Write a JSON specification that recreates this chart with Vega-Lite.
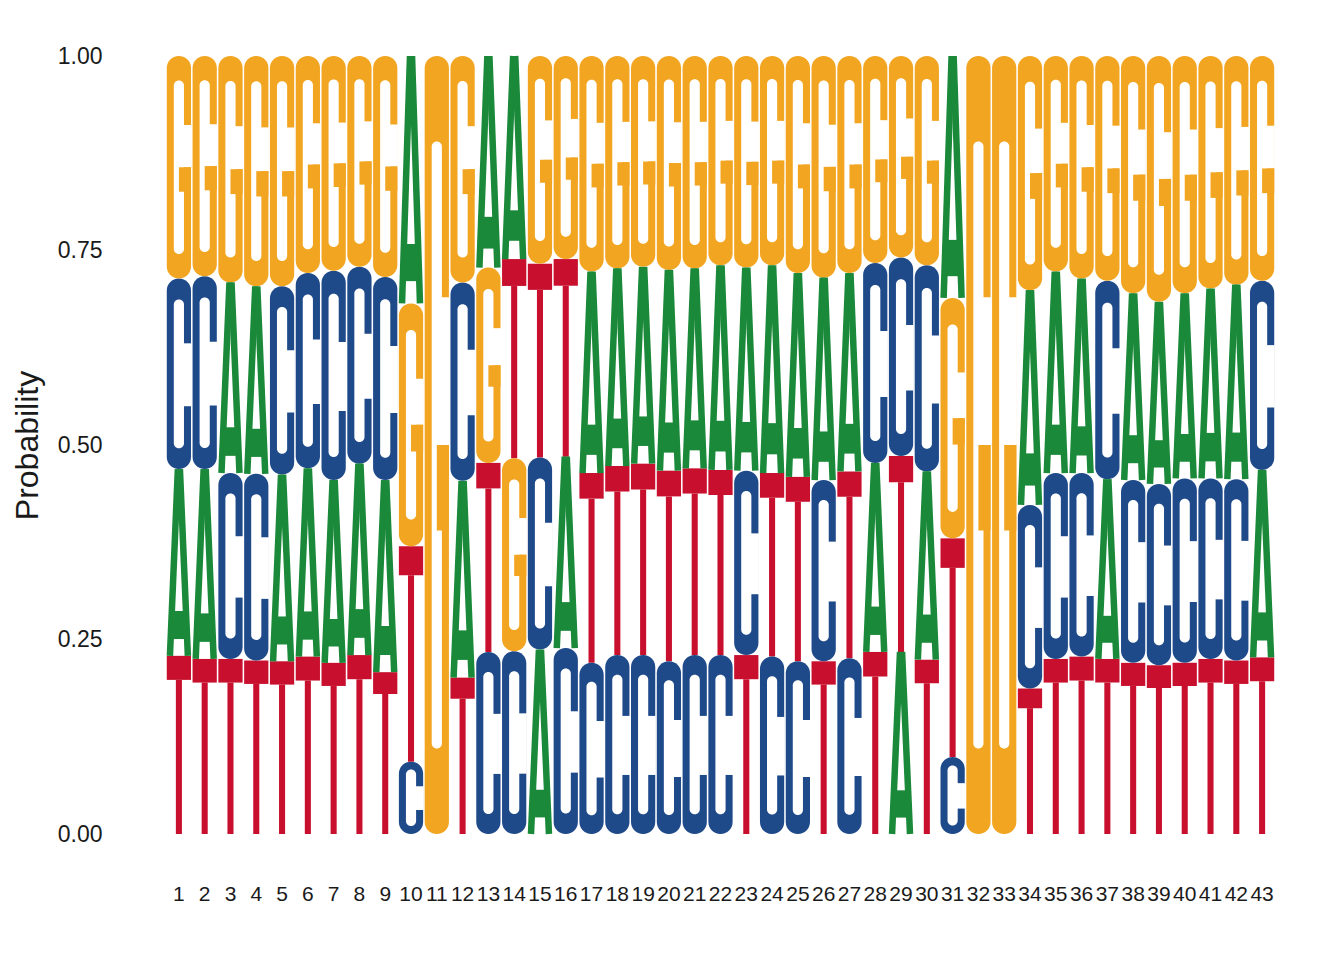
{
"$schema": "https://vega.github.io/schema/vega-lite/v6.json",
"width": 1109, "height": 778,
"autosize": {"type": "none"},
"padding": {"left": 166, "top": 56, "right": 69, "bottom": 126},
"background": "white",
"config": {"view": {"stroke": null}, "font": "Liberation Sans",
  "axis": {"ticks": false, "domain": false, "grid": false, "labelColor": "#1a1a1a", "titleColor": "#1a1a1a", "titleFontWeight": "normal", "titleFontSize": 32},
  "axisY": {"labelFontSize": 23, "labelPadding": 64, "titlePadding": 13, "format": ".2f"}},
"data": {"values": [
{"pos":1,"letter":"T","prob":0.229},{"pos":1,"letter":"A","prob":0.240},{"pos":1,"letter":"C","prob":0.245},{"pos":1,"letter":"G","prob":0.286},
{"pos":2,"letter":"T","prob":0.225},{"pos":2,"letter":"A","prob":0.244},{"pos":2,"letter":"C","prob":0.248},{"pos":2,"letter":"G","prob":0.283},
{"pos":3,"letter":"T","prob":0.225},{"pos":3,"letter":"C","prob":0.239},{"pos":3,"letter":"A","prob":0.245},{"pos":3,"letter":"G","prob":0.291},
{"pos":4,"letter":"T","prob":0.223},{"pos":4,"letter":"C","prob":0.240},{"pos":4,"letter":"A","prob":0.241},{"pos":4,"letter":"G","prob":0.296},
{"pos":5,"letter":"T","prob":0.222},{"pos":5,"letter":"A","prob":0.240},{"pos":5,"letter":"C","prob":0.242},{"pos":5,"letter":"G","prob":0.296},
{"pos":6,"letter":"T","prob":0.228},{"pos":6,"letter":"A","prob":0.242},{"pos":6,"letter":"C","prob":0.251},{"pos":6,"letter":"G","prob":0.279},
{"pos":7,"letter":"T","prob":0.220},{"pos":7,"letter":"A","prob":0.235},{"pos":7,"letter":"C","prob":0.269},{"pos":7,"letter":"G","prob":0.276},
{"pos":8,"letter":"T","prob":0.230},{"pos":8,"letter":"A","prob":0.246},{"pos":8,"letter":"C","prob":0.253},{"pos":8,"letter":"G","prob":0.271},
{"pos":9,"letter":"T","prob":0.208},{"pos":9,"letter":"A","prob":0.247},{"pos":9,"letter":"C","prob":0.261},{"pos":9,"letter":"G","prob":0.284},
{"pos":10,"letter":"C","prob":0.093},{"pos":10,"letter":"T","prob":0.277},{"pos":10,"letter":"G","prob":0.312},{"pos":10,"letter":"A","prob":0.318},
{"pos":11,"letter":"G","prob":1.0},
{"pos":12,"letter":"T","prob":0.201},{"pos":12,"letter":"A","prob":0.253},{"pos":12,"letter":"C","prob":0.255},{"pos":12,"letter":"G","prob":0.291},
{"pos":13,"letter":"C","prob":0.234},{"pos":13,"letter":"T","prob":0.243},{"pos":13,"letter":"G","prob":0.251},{"pos":13,"letter":"A","prob":0.272},
{"pos":14,"letter":"C","prob":0.235},{"pos":14,"letter":"G","prob":0.248},{"pos":14,"letter":"T","prob":0.256},{"pos":14,"letter":"A","prob":0.261},
{"pos":15,"letter":"A","prob":0.237},{"pos":15,"letter":"C","prob":0.247},{"pos":15,"letter":"T","prob":0.249},{"pos":15,"letter":"G","prob":0.267},
{"pos":16,"letter":"C","prob":0.239},{"pos":16,"letter":"A","prob":0.246},{"pos":16,"letter":"T","prob":0.254},{"pos":16,"letter":"G","prob":0.261},
{"pos":17,"letter":"C","prob":0.220},{"pos":17,"letter":"T","prob":0.244},{"pos":17,"letter":"A","prob":0.259},{"pos":17,"letter":"G","prob":0.277},
{"pos":18,"letter":"C","prob":0.230},{"pos":18,"letter":"T","prob":0.243},{"pos":18,"letter":"A","prob":0.254},{"pos":18,"letter":"G","prob":0.273},
{"pos":19,"letter":"C","prob":0.230},{"pos":19,"letter":"T","prob":0.246},{"pos":19,"letter":"A","prob":0.253},{"pos":19,"letter":"G","prob":0.271},
{"pos":20,"letter":"C","prob":0.222},{"pos":20,"letter":"T","prob":0.245},{"pos":20,"letter":"A","prob":0.258},{"pos":20,"letter":"G","prob":0.275},
{"pos":21,"letter":"C","prob":0.230},{"pos":21,"letter":"T","prob":0.240},{"pos":21,"letter":"A","prob":0.257},{"pos":21,"letter":"G","prob":0.273},
{"pos":22,"letter":"C","prob":0.230},{"pos":22,"letter":"T","prob":0.238},{"pos":22,"letter":"A","prob":0.263},{"pos":22,"letter":"G","prob":0.269},
{"pos":23,"letter":"T","prob":0.230},{"pos":23,"letter":"C","prob":0.237},{"pos":23,"letter":"A","prob":0.261},{"pos":23,"letter":"G","prob":0.272},
{"pos":24,"letter":"C","prob":0.228},{"pos":24,"letter":"T","prob":0.236},{"pos":24,"letter":"A","prob":0.267},{"pos":24,"letter":"G","prob":0.269},
{"pos":25,"letter":"C","prob":0.222},{"pos":25,"letter":"T","prob":0.237},{"pos":25,"letter":"A","prob":0.262},{"pos":25,"letter":"G","prob":0.279},
{"pos":26,"letter":"T","prob":0.222},{"pos":26,"letter":"C","prob":0.233},{"pos":26,"letter":"A","prob":0.260},{"pos":26,"letter":"G","prob":0.285},
{"pos":27,"letter":"C","prob":0.226},{"pos":27,"letter":"T","prob":0.240},{"pos":27,"letter":"A","prob":0.255},{"pos":27,"letter":"G","prob":0.279},
{"pos":28,"letter":"T","prob":0.234},{"pos":28,"letter":"A","prob":0.243},{"pos":28,"letter":"C","prob":0.257},{"pos":28,"letter":"G","prob":0.266},
{"pos":29,"letter":"A","prob":0.234},{"pos":29,"letter":"T","prob":0.252},{"pos":29,"letter":"C","prob":0.255},{"pos":29,"letter":"G","prob":0.259},
{"pos":30,"letter":"T","prob":0.224},{"pos":30,"letter":"A","prob":0.242},{"pos":30,"letter":"C","prob":0.265},{"pos":30,"letter":"G","prob":0.269},
{"pos":31,"letter":"C","prob":0.099},{"pos":31,"letter":"T","prob":0.281},{"pos":31,"letter":"G","prob":0.309},{"pos":31,"letter":"A","prob":0.311},
{"pos":32,"letter":"G","prob":1.0},
{"pos":33,"letter":"G","prob":1.0},
{"pos":34,"letter":"T","prob":0.187},{"pos":34,"letter":"C","prob":0.236},{"pos":34,"letter":"A","prob":0.276},{"pos":34,"letter":"G","prob":0.301},
{"pos":35,"letter":"T","prob":0.225},{"pos":35,"letter":"C","prob":0.239},{"pos":35,"letter":"A","prob":0.259},{"pos":35,"letter":"G","prob":0.277},
{"pos":36,"letter":"T","prob":0.228},{"pos":36,"letter":"C","prob":0.236},{"pos":36,"letter":"A","prob":0.250},{"pos":36,"letter":"G","prob":0.286},
{"pos":37,"letter":"T","prob":0.225},{"pos":37,"letter":"A","prob":0.231},{"pos":37,"letter":"C","prob":0.255},{"pos":37,"letter":"G","prob":0.289},
{"pos":38,"letter":"T","prob":0.220},{"pos":38,"letter":"C","prob":0.235},{"pos":38,"letter":"A","prob":0.240},{"pos":38,"letter":"G","prob":0.305},
{"pos":39,"letter":"T","prob":0.217},{"pos":39,"letter":"C","prob":0.233},{"pos":39,"letter":"A","prob":0.234},{"pos":39,"letter":"G","prob":0.316},
{"pos":40,"letter":"T","prob":0.220},{"pos":40,"letter":"C","prob":0.237},{"pos":40,"letter":"A","prob":0.238},{"pos":40,"letter":"G","prob":0.305},
{"pos":41,"letter":"T","prob":0.225},{"pos":41,"letter":"C","prob":0.232},{"pos":41,"letter":"A","prob":0.244},{"pos":41,"letter":"G","prob":0.299},
{"pos":42,"letter":"T","prob":0.223},{"pos":42,"letter":"C","prob":0.233},{"pos":42,"letter":"A","prob":0.250},{"pos":42,"letter":"G","prob":0.294},
{"pos":43,"letter":"T","prob":0.227},{"pos":43,"letter":"A","prob":0.241},{"pos":43,"letter":"C","prob":0.243},{"pos":43,"letter":"G","prob":0.289}
]},
"transform": [
  {"stack": "prob", "groupby": ["pos"], "sort": [{"field": "prob", "order": "ascending"}], "as": ["y0", "y1"]},
  {"calculate": "datum.y1 - datum.y0", "as": "h"},
  {"calculate": "datum.pos - 0.47", "as": "xl"},
  {"calculate": "datum.pos + 0.47", "as": "xr"}
],
"layer": [
  {"transform": [{"filter": "datum.letter === 'T'"}, {"calculate": "datum.y0 + 0.865 * datum.h", "as": "ya"}],
   "mark": {"type": "rect"},
   "encoding": {
     "x": {"field": "xl", "type": "quantitative", "title": null, "scale": {"domain": [0.5, 43.5], "nice": false, "zero": false}, "axis": null},
     "x2": {"field": "xr"},
     "y": {"field": "ya", "type": "quantitative", "title": "Probability", "scale": {"domain": [0, 1], "nice": false},
           "axis": {"values": [0, 0.25, 0.5, 0.75, 1], "title": "Probability"}},
     "y2": {"field": "y1"},
     "color": {"field": "letter", "type": "nominal", "scale": {"domain": ["A", "C", "G", "T"], "range": ["#1A8939", "#1F4A8A", "#F2A521", "#C8102E"]}, "legend": null}
   }},
  {"transform": [{"filter": "datum.letter === 'T'"}, {"calculate": "datum.y0 + 0.865 * datum.h", "as": "ya"}, {"calculate": "datum.pos - 0.1175", "as": "s1"}, {"calculate": "datum.pos + 0.1175", "as": "s2"}],
   "mark": {"type": "rect"},
   "encoding": {
     "x": {"field": "s1", "type": "quantitative", "title": null, "axis": null},
     "x2": {"field": "s2"},
     "y": {"field": "y0", "type": "quantitative", "title": "Probability"},
     "y2": {"field": "ya"},
     "color": {"field": "letter", "type": "nominal", "legend": null}
   }},
  {"transform": [{"filter": "datum.letter === 'C' || datum.letter === 'G'"}],
   "mark": {"type": "rect", "cornerRadius": 12},
   "encoding": {
     "x": {"field": "xl", "type": "quantitative", "title": null, "axis": null},
     "x2": {"field": "xr"},
     "y": {"field": "y0", "type": "quantitative", "title": "Probability"},
     "y2": {"field": "y1"},
     "color": {"field": "letter", "type": "nominal", "legend": null}
   }},
  {"transform": [{"filter": "datum.letter === 'C' || datum.letter === 'G'"}, {"calculate": "datum.pos - 0.197", "as": "h1"}, {"calculate": "datum.pos + 0.197", "as": "h2"}, {"calculate": "datum.y0 + 0.11 * datum.h", "as": "hy1"}, {"calculate": "datum.y1 - 0.11 * datum.h", "as": "hy2"}],
   "mark": {"type": "rect", "cornerRadius": 5, "color": "white"},
   "encoding": {
     "x": {"field": "h1", "type": "quantitative", "title": null, "axis": null},
     "x2": {"field": "h2"},
     "y": {"field": "hy1", "type": "quantitative", "title": "Probability"},
     "y2": {"field": "hy2"}
   }},
  {"transform": [{"filter": "datum.letter === 'C' || datum.letter === 'G'"}, {"calculate": "datum.pos + 0.49", "as": "o2"}, {"calculate": "datum.y0 + (datum.letter === 'C' ? 0.33 : 0.50) * datum.h", "as": "oy1"}, {"calculate": "datum.y0 + (datum.letter === 'C' ? 0.66 : 0.69) * datum.h", "as": "oy2"}],
   "mark": {"type": "rect", "color": "white"},
   "encoding": {
     "x": {"field": "pos", "type": "quantitative", "title": null, "axis": null},
     "x2": {"field": "o2"},
     "y": {"field": "oy1", "type": "quantitative", "title": "Probability"},
     "y2": {"field": "oy2"}
   }},
  {"transform": [{"filter": "datum.letter === 'G'"}, {"calculate": "datum.y0 + 0.39 * datum.h", "as": "gy1"}, {"calculate": "datum.y0 + 0.50 * datum.h", "as": "gy2"}],
   "mark": {"type": "rect"},
   "encoding": {
     "x": {"field": "pos", "type": "quantitative", "title": null, "axis": null},
     "x2": {"field": "xr"},
     "y": {"field": "gy1", "type": "quantitative", "title": "Probability"},
     "y2": {"field": "gy2"},
     "color": {"field": "letter", "type": "nominal", "legend": null}
   }},
  {"transform": [{"filter": "datum.letter === 'A'"}, {"calculate": "datum.pos - 0.348", "as": "la"}, {"calculate": "datum.pos - 0.04", "as": "lb"}],
   "mark": {"type": "rule", "strokeWidth": 6.5, "strokeCap": "butt"},
   "encoding": {
     "x": {"field": "la", "type": "quantitative", "title": null, "axis": null},
     "x2": {"field": "lb"},
     "y": {"field": "y0", "type": "quantitative", "title": "Probability"},
     "y2": {"field": "y1"},
     "color": {"field": "letter", "type": "nominal", "legend": null}
   }},
  {"transform": [{"filter": "datum.letter === 'A'"}, {"calculate": "datum.pos + 0.348", "as": "ra"}, {"calculate": "datum.pos + 0.04", "as": "rb"}],
   "mark": {"type": "rule", "strokeWidth": 6.5, "strokeCap": "butt"},
   "encoding": {
     "x": {"field": "ra", "type": "quantitative", "title": null, "axis": null},
     "x2": {"field": "rb"},
     "y": {"field": "y0", "type": "quantitative", "title": "Probability"},
     "y2": {"field": "y1"},
     "color": {"field": "letter", "type": "nominal", "legend": null}
   }},
  {"transform": [{"filter": "datum.letter === 'A'"}, {"calculate": "datum.pos - 0.30", "as": "c1"}, {"calculate": "datum.pos + 0.30", "as": "c2"}, {"calculate": "datum.y0 + 0.09 * datum.h", "as": "cy1"}, {"calculate": "datum.y0 + 0.24 * datum.h", "as": "cy2"}],
   "mark": {"type": "rect"},
   "encoding": {
     "x": {"field": "c1", "type": "quantitative", "title": null, "axis": null},
     "x2": {"field": "c2"},
     "y": {"field": "cy1", "type": "quantitative", "title": "Probability"},
     "y2": {"field": "cy2"},
     "color": {"field": "letter", "type": "nominal", "legend": null}
   }},
  {"transform": [{"filter": "datum.y0 === 0"}],
   "mark": {"type": "text", "fontSize": 21, "baseline": "middle", "align": "center", "color": "#1a1a1a", "font": "Liberation Sans"},
   "encoding": {
     "x": {"field": "pos", "type": "quantitative", "title": null, "axis": null},
     "y": {"datum": -0.079, "type": "quantitative"},
     "text": {"field": "pos", "type": "quantitative", "format": "d"}
   }}
]
}
